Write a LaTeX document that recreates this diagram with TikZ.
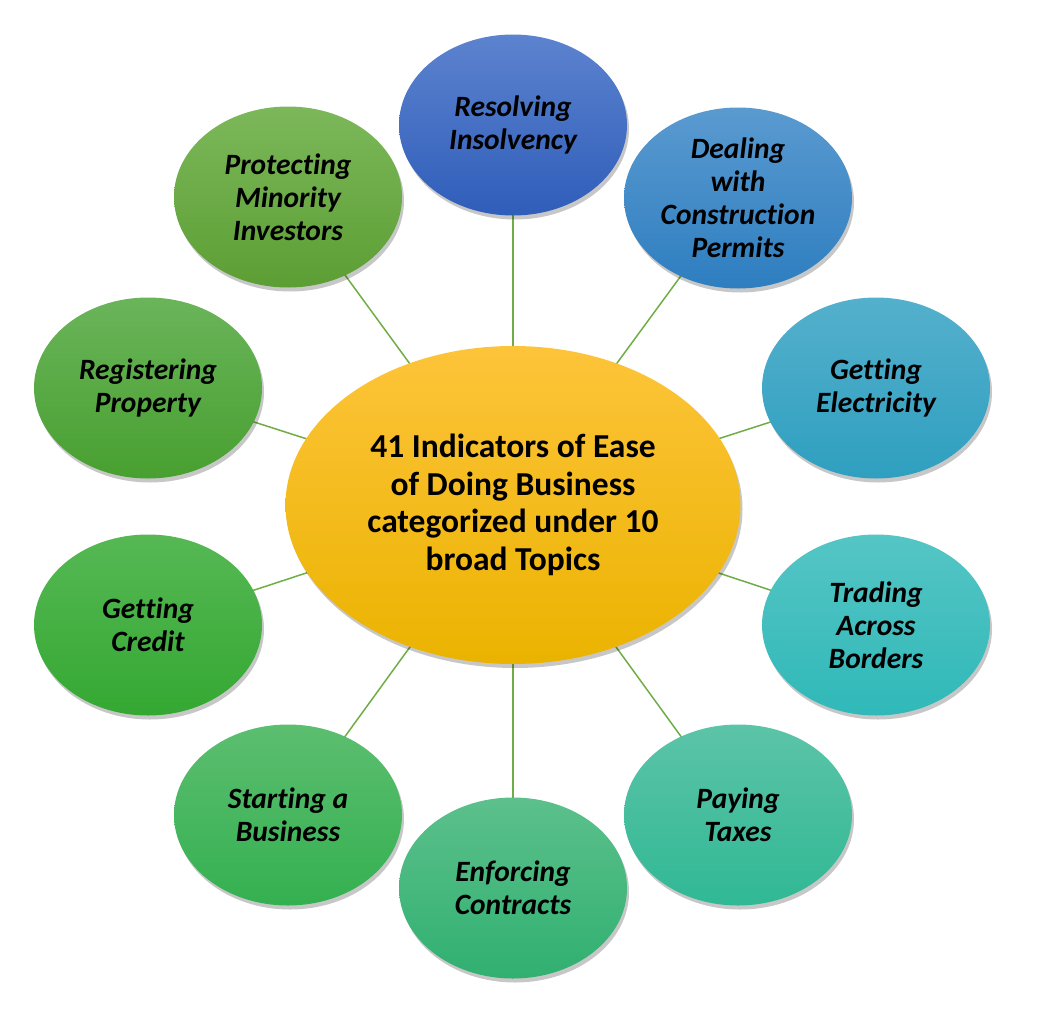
\documentclass[tikz,border=0pt]{standalone}
\usepackage{fontspec}
\setmainfont{Carlito}[RawFeature=-liga]
\usetikzlibrary{shapes.geometric,shadows,backgrounds}
\definecolor{linkc}{HTML}{70AD47}
\definecolor{hubtop}{HTML}{FDC43A}
\definecolor{hubbot}{HTML}{EBB300}
\definecolor{aT}{RGB}{92,131,207}\definecolor{aB}{RGB}{47,93,185}
\definecolor{bT}{RGB}{90,154,208}\definecolor{bB}{RGB}{46,126,192}
\definecolor{cT}{RGB}{84,176,204}\definecolor{cB}{RGB}{47,159,192}
\definecolor{dT}{RGB}{85,197,197}\definecolor{dB}{RGB}{48,184,184}
\definecolor{eT}{RGB}{92,196,168}\definecolor{eB}{RGB}{48,184,148}
\definecolor{fT}{RGB}{92,192,140}\definecolor{fB}{RGB}{48,176,112}
\definecolor{gT}{RGB}{92,190,112}\definecolor{gB}{RGB}{52,176,80}
\definecolor{hT}{RGB}{86,184,84}\definecolor{hB}{RGB}{52,168,50}
\definecolor{iT}{RGB}{106,180,90}\definecolor{iB}{RGB}{72,160,48}
\definecolor{jT}{RGB}{124,184,90}\definecolor{jB}{RGB}{92,158,52}
\tikzset{
  topic/.style 2 args={ellipse, minimum width=228pt, minimum height=181pt, inner sep=0pt,
    top color=#1, bottom color=#2, align=center,
    font=\fontsize{29.5}{33}\selectfont\bfseries\itshape,
    drop shadow={shadow xshift=2pt, shadow yshift=-4pt, opacity=0.22, fill=black}},
  hub/.style={ellipse, minimum width=455pt, minimum height=318pt, inner sep=0pt,
    top color=hubtop, bottom color=hubbot, align=center,
    font=\fontsize{33.5}{37.5}\selectfont\bfseries,
    drop shadow={shadow xshift=2pt, shadow yshift=-4pt, opacity=0.22, fill=black}},
  link/.style={draw=linkc, line width=1.5pt}
}
\begin{document}
\begin{tikzpicture}[x=1pt,y=-1pt]
\useasboundingbox (0,0) rectangle (1040,1017);
\node[hub] (c) at (513,505) {41 Indicators of Ease\\of Doing Business\\categorized under 10\\broad Topics};
\node[topic={aT}{aB}] (t1) at (513,125) {Resolving\\Insolvency};
\node[topic={bT}{bB}] (t2) at (738,198) {Dealing\\with\\Construction\\Permits};
\node[topic={cT}{cB}] (t3) at (876,388) {Getting\\Electricity};
\node[topic={dT}{dB}] (t4) at (876,625) {Trading\\Across\\Borders};
\node[topic={eT}{eB}] (t5) at (738,815) {Paying\\Taxes};
\node[topic={fT}{fB}] (t6) at (513,888) {Enforcing\\Contracts};
\node[topic={gT}{gB}] (t7) at (288,815) {Starting a\\Business};
\node[topic={hT}{hB}] (t8) at (148,625) {Getting\\Credit};
\node[topic={iT}{iB}] (t9) at (148,388) {Registering\\Property};
\node[topic={jT}{jB}] (t10) at (288,197) {Protecting\\Minority\\Investors};
\begin{scope}[on background layer]
\foreach \t in {t1,t2,t3,t4,t5,t6,t7,t8,t9,t10}
  \draw[link] (c.center) -- (\t.center);
\end{scope}
\end{tikzpicture}
\end{document}
